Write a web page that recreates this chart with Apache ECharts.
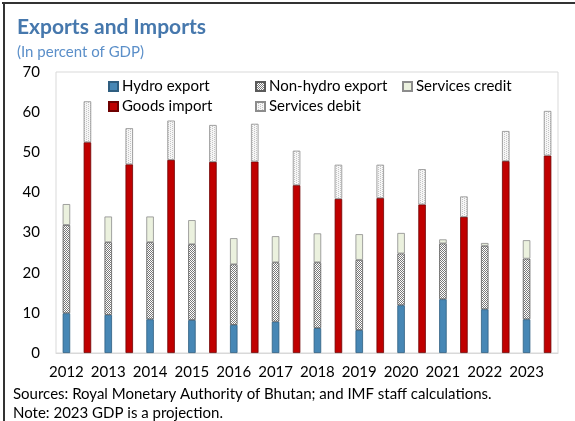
<!DOCTYPE html>
<html>
<head>
<meta charset="utf-8">
<script src="https://cdn.jsdelivr.net/npm/echarts@6/dist/echarts.min.js"></script>
<style>
  html, body { margin: 0; padding: 0; background: #fff; }
  #chart { width: 575px; height: 421px; }
</style>
</head>
<body>
<div id="chart"></div>
<script>
// data (percent of GDP)
const years = ['2012', '2013', '2014', '2015', '2016', '2017', '2018', '2019', '2020', '2021', '2022', '2023']
const hydroExport = [9.9, 9.5, 8.4, 8.2, 7.0, 7.8, 6.2, 5.7, 11.9, 13.4, 10.9, 8.4]
const nonHydroExport = [22.0, 18.1, 19.2, 18.9, 15.1, 14.8, 16.4, 17.5, 12.9, 13.9, 15.8, 15.1]
const servicesCredit = [5.2, 6.4, 6.4, 6.0, 6.5, 6.5, 7.2, 6.4, 5.1, 1.0, 0.7, 4.6]
const goodsImport = [52.5, 47.0, 48.1, 47.6, 47.7, 41.8, 38.4, 38.6, 37.0, 33.9, 47.8, 49.2]
const servicesDebit = [10.2, 9.0, 9.8, 9.2, 9.4, 8.6, 8.5, 8.3, 8.8, 5.1, 7.5, 11.1]
const yTicks = [0, 10, 20, 30, 40, 50, 60, 70]

const FONT = 'Lato'

// small hatch patterns like the excel fills
function makePattern (bg, fg, dots) {
  const c = document.createElement('canvas')
  c.width = 4
  c.height = 4
  const ctx = c.getContext('2d')
  ctx.fillStyle = bg
  ctx.fillRect(0, 0, 4, 4)
  ctx.fillStyle = fg
  dots.forEach(function (d) { ctx.fillRect(d[0], d[1], 1, 1) })
  return { image: c, repeat: 'repeat' }
}
const nonHydroFill = makePattern('#ffffff', '#7a7a7a', [[0, 0], [2, 0], [1, 1], [3, 1], [0, 2], [2, 2], [1, 3], [3, 3]])
const debitFill = makePattern('#f6f6f6', '#c4c4c4', [[0, 0], [2, 1], [0, 2], [2, 3]])

const chart = echarts.init(document.getElementById('chart'))

const border = { borderColor: '#5a5a5a', borderWidth: 0.8 }

function bar (name, stack, data, itemStyle) {
  return {
    name: name,
    type: 'bar',
    stack: stack,
    data: data,
    barWidth: 7.5,
    barGap: '180%',
    itemStyle: Object.assign({}, border, itemStyle)
  }
}

function legendAt (name, left, top) {
  return {
    data: [name],
    left: left,
    top: top,
    icon: 'rect',
    itemWidth: 9,
    itemHeight: 9,
    itemGap: 4,
    padding: 0,
    selectedMode: false,
    textStyle: { fontFamily: FONT, fontSize: 15, color: '#000', padding: [0, 0, 0, -1] }
  }
}

const option = {
  animation: false,
  title: [
    {
      text: 'Exports and Imports',
      left: 12,
      top: 12,
      textStyle: { fontFamily: FONT, fontSize: 21, fontWeight: 'bold', color: '#4678ad' }
    },
    {
      text: '(In percent of GDP)',
      left: 12,
      top: 40,
      textStyle: { fontFamily: FONT, fontSize: 15, fontWeight: 'normal', color: '#5b8fc9' }
    }
  ],
  legend: [
    legendAt('Hydro export', 108, 79),
    legendAt('Non-hydro export', 255, 79),
    legendAt('Services credit', 402, 79),
    legendAt('Goods import', 108, 99),
    legendAt('Services debit', 255, 99)
  ],
  grid: {
    left: 56,
    right: 17,
    top: 72,
    bottom: 68,
    show: true,
    borderColor: '#d9d9d9',
    borderWidth: 1
  },
  xAxis: {
    type: 'category',
    data: years,
    axisLine: { show: true, lineStyle: { color: '#d9d9d9' } },
    axisTick: { show: false },
    axisLabel: {
      interval: 0,
      fontFamily: FONT,
      fontSize: 15,
      color: '#000',
      margin: 12,
      padding: [0, 21, 0, 0]
    }
  },
  yAxis: {
    type: 'value',
    min: yTicks[0],
    max: yTicks[yTicks.length - 1],
    interval: 10,
    splitLine: { show: false },
    axisLine: { show: false },
    axisTick: { show: false },
    axisLabel: { fontFamily: FONT, fontSize: 15, color: '#000', margin: 16 }
  },
  series: [
    bar('Hydro export', 'exports', hydroExport, { color: '#4787b5', borderColor: '#2f5e80' }),
    bar('Goods import', 'imports', goodsImport, { color: '#c00000', borderColor: '#6e0000' }),
    bar('Non-hydro export', 'exports', nonHydroExport, { color: nonHydroFill }),
    bar('Services credit', 'exports', servicesCredit, { color: '#ebf1de', borderColor: '#8c8c8c' }),
    bar('Services debit', 'imports', servicesDebit, { color: debitFill, borderColor: '#8c8c8c' })
  ],
  graphic: [
    { type: 'rect', shape: { x: 2, y: 2, width: 575, height: 2 }, style: { fill: '#333' } },
    { type: 'rect', shape: { x: 3, y: 2, width: 2, height: 421 }, style: { fill: '#333' } },
    {
      type: 'text',
      left: 13,
      top: 387,
      style: { text: 'Sources: Royal Monetary Authority of Bhutan; and IMF staff calculations.', fontFamily: FONT, fontSize: 15, fill: '#000' }
    },
    {
      type: 'text',
      left: 13,
      top: 406,
      style: { text: 'Note: 2023 GDP is a projection.', fontFamily: FONT, fontSize: 15, fill: '#000' }
    }
  ]
}
chart.setOption(option)
</script>
</body>
</html>
